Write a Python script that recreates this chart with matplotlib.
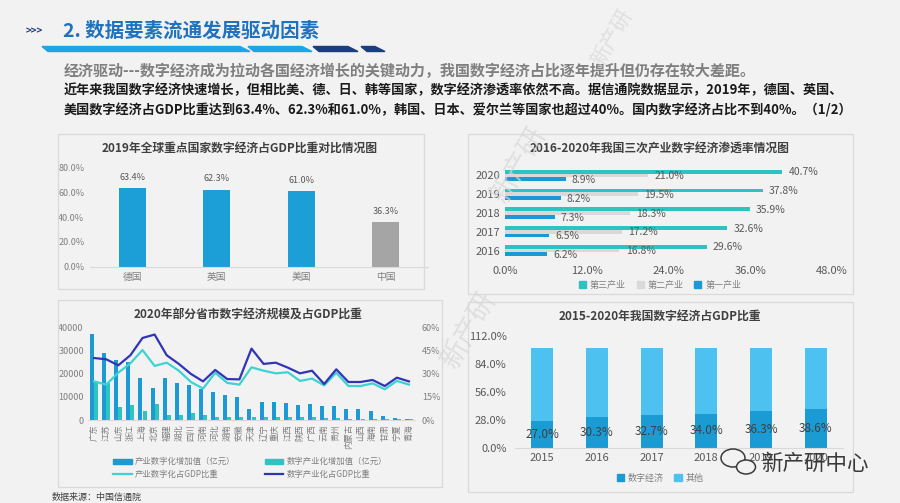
import matplotlib
matplotlib.use('Agg')
import matplotlib.pyplot as plt
import numpy as np
from matplotlib.patches import Rectangle, Polygon, Ellipse
from matplotlib.lines import Line2D

plt.rcParams['font.family'] = ['Noto Sans CJK SC', 'DejaVu Sans']

# 图1：2019年全球重点国家数字经济占GDP比重
countries = ['德国', '英国', '美国', '中国']
country_share = [63.4, 62.3, 61.0, 36.3]

# 图2：三次产业数字经济渗透率
pen_years = ['2016', '2017', '2018', '2019', '2020']
tertiary = [29.6, 32.6, 35.9, 37.8, 40.7]
secondary = [16.8, 17.2, 18.3, 19.5, 21.0]
primary = [6.2, 6.5, 7.3, 8.2, 8.9]

# 图3：2020年部分省市数字经济规模
provinces = ['广东', '江苏', '山东', '浙江', '上海', '北京', '福建', '湖北', '四川',
             '河南', '河北', '湖南', '安徽', '天津', '辽宁', '重庆', '江西', '陕西',
             '广西', '云南', '贵州', '内蒙古', '山西', '海南', '甘肃', '宁夏', '青海']
ind_digit = [37100, 29100, 25900, 25000, 18100, 13800, 18100, 16000, 15100,
             13500, 12100, 10800, 9900, 4750, 7800, 7800, 7500, 6300,
             6900, 6000, 5900, 4600, 4600, 3900, 1700, 860, 580]
digit_ind = [17000, 15800, 5800, 6300, 3900, 6900, 2300, 2300, 2900,
             2300, 1150, 1450, 1450, 1150, 1150, 1450, 1150, 1150,
             1150, 860, 860, 580, 580, 430, 290, 290, 290]
ind_digit_pct = [25.0, 22.9, 30.6, 36.7, 45.3, 35.0, 37.1, 31.9, 24.6,
                 20.3, 30.6, 24.0, 22.9, 34.1, 31.9, 30.2, 30.9, 25.3,
                 26.8, 22.4, 30.6, 22.0, 22.0, 23.7, 19.9, 25.3, 22.9]
digit_ind_pct = [40.1, 39.3, 35.4, 41.9, 53.1, 55.3, 41.9, 36.3, 29.8,
                 25.0, 32.4, 26.5, 26.3, 46.2, 36.3, 37.1, 33.9, 30.2,
                 31.9, 23.3, 32.8, 24.6, 24.6, 25.9, 22.0, 27.4, 25.0]

# 图4：2015-2020年我国数字经济占GDP比重
gdp_years = ['2015', '2016', '2017', '2018', '2019', '2020']
digital_share = [27.0, 30.3, 32.7, 34.0, 36.3, 38.6]
other_share = [73.0, 69.7, 67.3, 66.0, 63.7, 61.4]

W, H = 900, 503
fig = plt.figure(figsize=(9, 5.03), dpi=100, facecolor='#f2f2f2')


def add_ax(x0, y0, x1, y1):
    ax = fig.add_axes([x0 / W, 1 - y1 / H, (x1 - x0) / W, (y1 - y0) / H])
    ax.set_facecolor('none')
    return ax


def ftext(x, y, s, **kw):
    return fig.text(x / W, 1 - y / H, s, **kw)


def box(x0, y0, x1, y1):
    fig.patches.append(Rectangle((x0 / W, 1 - y1 / H), (x1 - x0) / W, (y1 - y0) / H,
                                 transform=fig.transFigure, facecolor='none',
                                 edgecolor='#dadada', lw=0.9))


def clean(ax, bottom=True):
    for s in ax.spines.values():
        s.set_visible(False)
    if bottom:
        ax.spines['bottom'].set_visible(True)
        ax.spines['bottom'].set_color('#d9d9d9')
    ax.tick_params(length=0)


# 页眉
ftext(26, 31, '>>>', fontsize=7, color='#1f3f7a', fontweight='bold', va='center')
ftext(63, 31, '2. 数据要素流通发展驱动因素', fontsize=14, color='#1e72be',
      fontweight='bold', va='center')
strips = [((42, 46.5), (240, 46.5), (250, 51.5), (48, 51.5), '#1ca6e6'),
          ((248, 46.5), (302, 46.5), (312, 51.5), (254, 51.5), '#1ca6e6'),
          ((313, 46.5), (348, 46.5), (358, 51.5), (319, 51.5), '#1b3f7e'),
          ((361, 46.5), (375, 46.5), (385, 51.5), (367, 51.5), '#1b3f7e')]
for *pts, c in strips:
    fig.patches.append(Polygon([(px / W, 1 - py / H) for px, py in pts],
                               transform=fig.transFigure, color=c))

ftext(64, 71, '经济驱动---数字经济成为拉动各国经济增长的关键动力，我国数字经济占比逐年提升但仍存在较大差距。',
      fontsize=10.85, color='#7f7f7f', fontweight='bold', va='center')
ftext(64, 90, '近年来我国数字经济快速增长，但相比美、德、日、韩等国家，数字经济渗透率依然不高。据信通院数据显示，2019年，德国、英国、',
      fontsize=9.45, color='#1a1a1a', fontweight='bold', va='center')
ftext(64, 110, '美国数字经济占GDP比重达到63.4%、62.3%和61.0%，韩国、日本、爱尔兰等国家也超过40%。国内数字经济占比不到40%。（1/2）',
      fontsize=9.45, color='#1a1a1a', fontweight='bold', va='center')

# 图1
box(58, 134, 424, 289)
ftext(240, 148, '2019年全球重点国家数字经济占GDP比重对比情况图', fontsize=8.5,
      color='#404040', fontweight='bold', ha='center', va='center')
ax1 = add_ax(90, 167.7, 428, 266.7)
x = np.arange(len(countries))
ax1.bar(x, country_share, width=0.32, color=['#1b9fd6'] * 3 + ['#a5a5a5'])
for i, v in enumerate(country_share):
    ax1.text(i, v + 8.6, f'{v:.1f}%', ha='center', va='center', fontsize=6.5, color='#595959')
ax1.set_xlim(-0.5, 3.5)
ax1.set_ylim(0, 80)
ax1.set_yticks([0, 20, 40, 60, 80])
ax1.set_yticklabels([f'{v:.1f}%' for v in [0, 20, 40, 60, 80]], fontsize=6.5, color='#7f7f7f')
ax1.set_xticks(x)
ax1.set_xticklabels(countries, fontsize=7, color='#7f7f7f')
clean(ax1)
ax1.tick_params(axis='y', pad=4)
ax1.tick_params(axis='x', pad=4)

# 图2
box(468, 134, 853, 294)
ftext(660, 149, '2016-2020年我国三次产业数字经济渗透率情况图', fontsize=8.5,
      color='#404040', fontweight='bold', ha='center', va='center')
ax2 = add_ax(505, 160, 832, 262)
y = np.arange(len(pen_years))
ax2.barh(y + 0.2, tertiary, height=0.2, color='#2ec3c3')
ax2.barh(y, secondary, height=0.2, color='#d9d9d9')
ax2.barh(y - 0.2, primary, height=0.2, color='#1b98d5')
for i in range(len(pen_years)):
    ax2.text(tertiary[i] + 0.9, y[i] + 0.17, f'{tertiary[i]:.1f}%', va='center', fontsize=7.5, color='#595959')
    ax2.text(secondary[i] + 0.9, y[i] - 0.03, f'{secondary[i]:.1f}%', va='center', fontsize=7.5, color='#595959')
    ax2.text(primary[i] + 0.9, y[i] - 0.25, f'{primary[i]:.1f}%', va='center', fontsize=7.5, color='#595959')
ax2.set_xlim(0, 48)
ax2.set_ylim(-0.61, 4.82)
ax2.set_yticks(y)
ax2.set_yticklabels(pen_years, fontsize=8, color='#595959')
ax2.set_xticks([0, 12, 24, 36, 48])
ax2.set_xticklabels([f'{v:.1f}%' for v in [0, 12, 24, 36, 48]], fontsize=8, color='#595959')
clean(ax2, bottom=False)
ax2.tick_params(axis='x', pad=3)
h2 = [Rectangle((0, 0), 1, 1, color=c) for c in ['#2ec3c3', '#d9d9d9', '#1b98d5']]
fig.legend(h2, ['第三产业', '第二产业', '第一产业'], loc='center', ncol=3,
           bbox_to_anchor=(660 / W, 1 - 285 / H), frameon=False, fontsize=6.5,
           labelcolor='#7f7f7f', handlelength=0.8, handleheight=0.8,
           handletextpad=0.4, columnspacing=1.2)

# 图3
box(58, 300, 442, 487)
ftext(248, 315, '2020年部分省市数字经济规模及占GDP比重', fontsize=8.5,
      color='#404040', fontweight='bold', ha='center', va='center')
ax3 = add_ax(88, 327.3, 415, 420)
xp = np.arange(len(provinces))
ax3.bar(xp - 0.17, ind_digit, width=0.33, color='#1c9ad6')
ax3.bar(xp + 0.17, digit_ind, width=0.33, color='#2ec4c0')
ax3.set_xlim(-0.5, len(provinces) - 0.5)
ax3.set_ylim(0, 40000)
ax3.set_yticks([0, 10000, 20000, 30000, 40000])
ax3.set_yticklabels(['0', '10000', '20000', '30000', '40000'], fontsize=6.5, color='#7f7f7f')
ax3.set_xticks(xp)
ax3.set_xticklabels(provinces, rotation=90, fontsize=6, color='#7f7f7f')
clean(ax3)
ax3.tick_params(axis='y', pad=3)
ax3.tick_params(axis='x', pad=3)
ax3r = ax3.twinx()
ax3r.set_facecolor('none')
ax3r.plot(xp, ind_digit_pct, color='#3dd3d3', lw=1.6)
ax3r.plot(xp, digit_ind_pct, color='#3035b5', lw=1.6)
ax3r.set_ylim(0, 60)
ax3r.set_yticks([0, 15, 30, 45, 60])
ax3r.set_yticklabels(['0%', '15%', '30%', '45%', '60%'], fontsize=6.5, color='#7f7f7f')
clean(ax3r, bottom=False)
ax3r.tick_params(axis='y', pad=5)
hb1 = Rectangle((0, 0), 1, 1, color='#1c9ad6')
hb2 = Rectangle((0, 0), 1, 1, color='#2ec4c0')
fig.legend([hb1, Line2D([], [], color='#3dd3d3', lw=1.6), hb2, Line2D([], [], color='#3035b5', lw=1.6)],
           ['产业数字化增加值（亿元）', '产业数字化占GDP比重', '数字产业化增加值（亿元）', '数字产业化占GDP比重'],
           loc='center', ncol=2, bbox_to_anchor=(250 / W, 1 - 468 / H), frameon=False,
           fontsize=6, labelcolor='#7f7f7f', handlelength=2.2, handleheight=0.6,
           handletextpad=0.4, columnspacing=3.5, labelspacing=0.4)
ftext(52, 497, '数据来源：中国信通院', fontsize=6.5, color='#404040', va='center')

# 图4
box(468, 302, 853, 492)
ftext(660, 316, '2015-2020年我国数字经济占GDP比重', fontsize=8.5,
      color='#404040', fontweight='bold', ha='center', va='center')
ax4 = add_ax(515, 335.7, 843, 447.7)
xg = np.arange(len(gdp_years))
ax4.bar(xg, digital_share, width=0.4, color='#1a9bd3')
ax4.bar(xg, other_share, width=0.4, bottom=digital_share, color='#4dc2f1')
for i, v in enumerate(digital_share):
    ax4.text(i, v / 2, f'{v:.1f}%', ha='center', va='center', fontsize=8.5, color='#404040')
ax4.set_xlim(-0.5, len(gdp_years) - 0.5)
ax4.set_ylim(0, 112)
ax4.set_yticks([0, 28, 56, 84, 112])
ax4.set_yticklabels([f'{v:.1f}%' for v in [0, 28, 56, 84, 112]], fontsize=8, color='#595959')
ax4.set_xticks(xg)
ax4.set_xticklabels(gdp_years, fontsize=8, color='#595959')
clean(ax4)
ax4.tick_params(axis='y', pad=6)
ax4.tick_params(axis='x', pad=4)
h4 = [Rectangle((0, 0), 1, 1, color=c) for c in ['#1a9bd3', '#4dc2f1']]
fig.legend(h4, ['数字经济', '其他'], loc='center', ncol=2,
           bbox_to_anchor=(660 / W, 1 - 478 / H), frameon=False, fontsize=6.5,
           labelcolor='#7f7f7f', handlelength=0.8, handleheight=0.8,
           handletextpad=0.4, columnspacing=1.2)

# 水印
for wx, wy, fs in [(612, 38, 15), (520, 165, 20), (470, 330, 20)]:
    ftext(wx, wy, '新产研', fontsize=fs, color='#d8d8d8', rotation=60,
          ha='center', va='center', alpha=0.7)
for ex, ey, ew, eh in [(733, 458, 24, 18), (746, 467, 19, 14)]:
    fig.patches.append(Ellipse((ex / W, 1 - ey / H), ew / W, eh / H, transform=fig.transFigure,
                               facecolor='#f2f2f2', edgecolor='#3a3a3a', lw=1.1))
ftext(815, 464, '新产研中心', fontsize=15.5, color='#3a3a3a', ha='center', va='center')

fig.savefig('out.png', dpi=100, facecolor=fig.get_facecolor())
